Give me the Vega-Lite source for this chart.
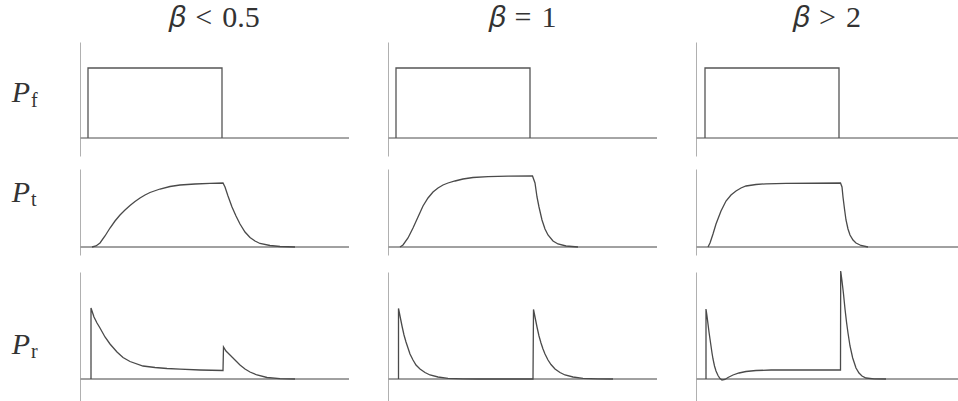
{
  "$schema": "https://vega.github.io/schema/vega-lite/v6.json",
  "padding": {"left": 0, "top": 3, "right": 0, "bottom": 0},
  "background": "white",
  "spacing": 13,
  "bounds": "full",
  "config": {
    "view": {"stroke": null},
    "title": {"font": "Liberation Serif", "fontSize": 30, "fontWeight": "normal", "color": "#333", "anchor": "middle", "offset": 9, "baseline": "alphabetic"},
    "axisY": {"domain": true, "domainColor": "#b0b0b0", "domainWidth": 1, "ticks": false, "labels": false, "grid": false, "title": null},
    "line": {"color": "#4a4a4a", "strokeWidth": 1.3},
    "rule": {"color": "#a0a0a0", "strokeWidth": 1}
  },
  "datasets": {
    "pf": [
      {"c": "a", "x": 8, "y": 0}, {"c": "a", "x": 8, "y": 70}, {"c": "a", "x": 142, "y": 70}, {"c": "a", "x": 142, "y": 0},
      {"c": "b", "x": 8, "y": 0}, {"c": "b", "x": 8, "y": 70}, {"c": "b", "x": 142, "y": 70}, {"c": "b", "x": 142, "y": 0},
      {"c": "c", "x": 9, "y": 0}, {"c": "c", "x": 9, "y": 70}, {"c": "c", "x": 143, "y": 70}, {"c": "c", "x": 143, "y": 0}
    ],
    "pt": [
      {"c": "a", "x": 12, "y": 0}, {"c": "a", "x": 16, "y": 1}, {"c": "a", "x": 20, "y": 4}, {"c": "a", "x": 25, "y": 11}, {"c": "a", "x": 30, "y": 19}, {"c": "a", "x": 35, "y": 26}, {"c": "a", "x": 40, "y": 32}, {"c": "a", "x": 45, "y": 37}, {"c": "a", "x": 50, "y": 41.5}, {"c": "a", "x": 55, "y": 45.5}, {"c": "a", "x": 60, "y": 49}, {"c": "a", "x": 65, "y": 52}, {"c": "a", "x": 70, "y": 54.5}, {"c": "a", "x": 80, "y": 58}, {"c": "a", "x": 90, "y": 60.5}, {"c": "a", "x": 100, "y": 62}, {"c": "a", "x": 115, "y": 63}, {"c": "a", "x": 130, "y": 63.6}, {"c": "a", "x": 143, "y": 64}, {"c": "a", "x": 145, "y": 60}, {"c": "a", "x": 148, "y": 51}, {"c": "a", "x": 152, "y": 40}, {"c": "a", "x": 156, "y": 31}, {"c": "a", "x": 160, "y": 23}, {"c": "a", "x": 165, "y": 15}, {"c": "a", "x": 170, "y": 9.5}, {"c": "a", "x": 175, "y": 6}, {"c": "a", "x": 180, "y": 3.5}, {"c": "a", "x": 190, "y": 1.5}, {"c": "a", "x": 200, "y": 0.5}, {"c": "a", "x": 215, "y": 0},
      {"c": "b", "x": 12, "y": 0}, {"c": "b", "x": 15, "y": 2}, {"c": "b", "x": 20, "y": 9}, {"c": "b", "x": 25, "y": 19}, {"c": "b", "x": 30, "y": 30}, {"c": "b", "x": 35, "y": 41}, {"c": "b", "x": 40, "y": 49}, {"c": "b", "x": 45, "y": 55}, {"c": "b", "x": 50, "y": 59}, {"c": "b", "x": 55, "y": 62}, {"c": "b", "x": 60, "y": 64}, {"c": "b", "x": 67, "y": 66}, {"c": "b", "x": 75, "y": 68}, {"c": "b", "x": 85, "y": 69.5}, {"c": "b", "x": 100, "y": 70.3}, {"c": "b", "x": 120, "y": 70.8}, {"c": "b", "x": 144.5, "y": 71}, {"c": "b", "x": 147, "y": 64}, {"c": "b", "x": 149, "y": 50}, {"c": "b", "x": 151, "y": 40}, {"c": "b", "x": 154, "y": 27}, {"c": "b", "x": 157, "y": 18}, {"c": "b", "x": 160, "y": 12}, {"c": "b", "x": 165, "y": 6}, {"c": "b", "x": 170, "y": 3}, {"c": "b", "x": 178, "y": 1}, {"c": "b", "x": 190, "y": 0},
      {"c": "c", "x": 12, "y": 0}, {"c": "c", "x": 14, "y": 4}, {"c": "c", "x": 17, "y": 13}, {"c": "c", "x": 20, "y": 23}, {"c": "c", "x": 25, "y": 36}, {"c": "c", "x": 30, "y": 46}, {"c": "c", "x": 35, "y": 52}, {"c": "c", "x": 40, "y": 56}, {"c": "c", "x": 45, "y": 59}, {"c": "c", "x": 50, "y": 61}, {"c": "c", "x": 60, "y": 62.5}, {"c": "c", "x": 70, "y": 63.2}, {"c": "c", "x": 90, "y": 63.7}, {"c": "c", "x": 144.5, "y": 64}, {"c": "c", "x": 146, "y": 60}, {"c": "c", "x": 147, "y": 50}, {"c": "c", "x": 148.5, "y": 38}, {"c": "c", "x": 150, "y": 27}, {"c": "c", "x": 152, "y": 18}, {"c": "c", "x": 154, "y": 12}, {"c": "c", "x": 157, "y": 7}, {"c": "c", "x": 160, "y": 4}, {"c": "c", "x": 165, "y": 1.5}, {"c": "c", "x": 172, "y": 0}
    ],
    "pr": [
      {"c": "a", "x": 11, "y": 0}, {"c": "a", "x": 11, "y": 71}, {"c": "a", "x": 14, "y": 62}, {"c": "a", "x": 17, "y": 56}, {"c": "a", "x": 20, "y": 51}, {"c": "a", "x": 25, "y": 42}, {"c": "a", "x": 30, "y": 35}, {"c": "a", "x": 37, "y": 27}, {"c": "a", "x": 43, "y": 21.5}, {"c": "a", "x": 50, "y": 17.5}, {"c": "a", "x": 63, "y": 13}, {"c": "a", "x": 75, "y": 11.5}, {"c": "a", "x": 87, "y": 10.5}, {"c": "a", "x": 100, "y": 9.8}, {"c": "a", "x": 120, "y": 9}, {"c": "a", "x": 143, "y": 8.5}, {"c": "a", "x": 143.5, "y": 32}, {"c": "a", "x": 146, "y": 28}, {"c": "a", "x": 150, "y": 24}, {"c": "a", "x": 155, "y": 19}, {"c": "a", "x": 160, "y": 14}, {"c": "a", "x": 165, "y": 10}, {"c": "a", "x": 170, "y": 7}, {"c": "a", "x": 177, "y": 4}, {"c": "a", "x": 187, "y": 1.5}, {"c": "a", "x": 200, "y": 0.3}, {"c": "a", "x": 215, "y": 0},
      {"c": "b", "x": 10.5, "y": 0}, {"c": "b", "x": 10.5, "y": 70.5}, {"c": "b", "x": 12, "y": 63}, {"c": "b", "x": 14, "y": 53}, {"c": "b", "x": 16, "y": 44}, {"c": "b", "x": 18, "y": 37}, {"c": "b", "x": 20, "y": 31}, {"c": "b", "x": 22, "y": 25}, {"c": "b", "x": 25, "y": 19}, {"c": "b", "x": 28, "y": 14}, {"c": "b", "x": 32, "y": 10}, {"c": "b", "x": 37, "y": 6.5}, {"c": "b", "x": 42, "y": 4}, {"c": "b", "x": 50, "y": 2}, {"c": "b", "x": 60, "y": 0.7}, {"c": "b", "x": 75, "y": 0.1}, {"c": "b", "x": 90, "y": 0}, {"c": "b", "x": 145, "y": 0}, {"c": "b", "x": 145.5, "y": 69.5}, {"c": "b", "x": 147, "y": 62}, {"c": "b", "x": 149, "y": 52}, {"c": "b", "x": 151, "y": 43}, {"c": "b", "x": 153, "y": 36}, {"c": "b", "x": 155, "y": 30}, {"c": "b", "x": 157, "y": 25}, {"c": "b", "x": 160, "y": 19}, {"c": "b", "x": 163, "y": 14.5}, {"c": "b", "x": 167, "y": 10}, {"c": "b", "x": 172, "y": 6.5}, {"c": "b", "x": 177, "y": 4}, {"c": "b", "x": 185, "y": 2}, {"c": "b", "x": 195, "y": 0.7}, {"c": "b", "x": 210, "y": 0.1}, {"c": "b", "x": 225, "y": 0},
      {"c": "c", "x": 10, "y": 0}, {"c": "c", "x": 10, "y": 70}, {"c": "c", "x": 11, "y": 63}, {"c": "c", "x": 12, "y": 55}, {"c": "c", "x": 13, "y": 47}, {"c": "c", "x": 14, "y": 40}, {"c": "c", "x": 15, "y": 33}, {"c": "c", "x": 16, "y": 26}, {"c": "c", "x": 17, "y": 20}, {"c": "c", "x": 18.5, "y": 13}, {"c": "c", "x": 20, "y": 8}, {"c": "c", "x": 22, "y": 3.5}, {"c": "c", "x": 24, "y": 0.5}, {"c": "c", "x": 26, "y": -1}, {"c": "c", "x": 29, "y": -0.5}, {"c": "c", "x": 32, "y": 1.5}, {"c": "c", "x": 37, "y": 4}, {"c": "c", "x": 43, "y": 6}, {"c": "c", "x": 50, "y": 7.5}, {"c": "c", "x": 60, "y": 8.5}, {"c": "c", "x": 75, "y": 9}, {"c": "c", "x": 100, "y": 9}, {"c": "c", "x": 144.5, "y": 9}, {"c": "c", "x": 144.7, "y": 108}, {"c": "c", "x": 146, "y": 98}, {"c": "c", "x": 147.5, "y": 85}, {"c": "c", "x": 149, "y": 70}, {"c": "c", "x": 150.5, "y": 57}, {"c": "c", "x": 152, "y": 46}, {"c": "c", "x": 154, "y": 33}, {"c": "c", "x": 156.7, "y": 21}, {"c": "c", "x": 160, "y": 11}, {"c": "c", "x": 163, "y": 6}, {"c": "c", "x": 166, "y": 3}, {"c": "c", "x": 170, "y": 1}, {"c": "c", "x": 178, "y": 0.2}, {"c": "c", "x": 190, "y": 0}
    ],
    "labels": [
      {"r": "f", "k": "main", "t": "P", "x": 21, "y": 36},
      {"r": "f", "k": "sub", "t": "f", "x": 31, "y": 31},
      {"r": "t", "k": "main", "t": "P", "x": 21, "y": 45},
      {"r": "t", "k": "sub", "t": "t", "x": 31, "y": 41},
      {"r": "r", "k": "main", "t": "P", "x": 21, "y": 25},
      {"r": "r", "k": "sub", "t": "r", "x": 31, "y": 21}
    ]
  },
  "resolve": {"scale": {"x": "independent", "y": "independent"}},
  "vconcat": [
    {
      "bounds": "flush",
      "spacing": 39,
      "resolve": {"scale": {"x": "independent", "y": "independent"}},
      "hconcat": [
        {
          "width": 41, "height": 114,
          "data": {"name": "labels"},
          "transform": [{"filter": "datum.r == 'f'"}],
          "layer": [
            {"transform": [{"filter": "datum.k == 'main'"}], "mark": {"type": "text", "font": "Liberation Serif", "fontSize": 30, "fontStyle": "italic", "align": "center", "baseline": "alphabetic", "color": "#333"},
             "encoding": {"x": {"field": "x", "type": "quantitative", "scale": {"domain": [0, 41]}, "axis": null}, "y": {"field": "y", "type": "quantitative", "scale": {"domain": [-18, 96]}, "axis": null}, "text": {"field": "t"}}},
            {"transform": [{"filter": "datum.k == 'sub'"}], "mark": {"type": "text", "font": "Liberation Serif", "fontSize": 20, "align": "left", "baseline": "alphabetic", "color": "#333"},
             "encoding": {"x": {"field": "x", "type": "quantitative", "scale": {"domain": [0, 41]}, "axis": null}, "y": {"field": "y", "type": "quantitative", "scale": {"domain": [-18, 96]}, "axis": null}, "text": {"field": "t"}}}
          ]
        },
        {
          "title": {"text": "𝛽\u2004<\u20040.5", "font": "Liberation Serif", "fontSize": 30, "fontWeight": "normal", "color": "#333", "offset": 9},
          "width": 269, "height": 114,
          "data": {"name": "pf"},
          "transform": [{"filter": "datum.c == 'a'"}],
          "encoding": {"x": {"field": "x", "type": "quantitative", "scale": {"domain": [0, 269], "nice": false, "zero": false}, "axis": null}, "y": {"field": "y", "type": "quantitative", "scale": {"domain": [-18, 96], "nice": false, "zero": false}}},
          "layer": [
            {"mark": "rule", "encoding": {"x": null, "y": {"datum": 0, "type": "quantitative"}}},
            {"mark": {"type": "line", "color": "#555"}, "encoding": {"order": {"value": null}}}
          ]
        },
        {
          "title": {"text": "𝛽\u2004=\u20041", "font": "Liberation Serif", "fontSize": 30, "fontWeight": "normal", "color": "#333", "offset": 9},
          "width": 269, "height": 114,
          "data": {"name": "pf"},
          "transform": [{"filter": "datum.c == 'b'"}],
          "encoding": {"x": {"field": "x", "type": "quantitative", "scale": {"domain": [0, 269], "nice": false, "zero": false}, "axis": null}, "y": {"field": "y", "type": "quantitative", "scale": {"domain": [-18, 96], "nice": false, "zero": false}}},
          "layer": [
            {"mark": "rule", "encoding": {"x": null, "y": {"datum": 0, "type": "quantitative"}}},
            {"mark": {"type": "line", "color": "#555"}, "encoding": {"order": {"value": null}}}
          ]
        },
        {
          "title": {"text": "𝛽\u2004>\u20042", "font": "Liberation Serif", "fontSize": 30, "fontWeight": "normal", "color": "#333", "offset": 9},
          "width": 262, "height": 114,
          "data": {"name": "pf"},
          "transform": [{"filter": "datum.c == 'c'"}],
          "encoding": {"x": {"field": "x", "type": "quantitative", "scale": {"domain": [0, 262], "nice": false, "zero": false}, "axis": null}, "y": {"field": "y", "type": "quantitative", "scale": {"domain": [-18, 96], "nice": false, "zero": false}}},
          "layer": [
            {"mark": "rule", "encoding": {"x": null, "y": {"datum": 0, "type": "quantitative"}}},
            {"mark": {"type": "line", "color": "#555"}, "encoding": {"order": {"value": null}}}
          ]
        }
      ]
    },
    {
      "bounds": "flush",
      "spacing": 39,
      "resolve": {"scale": {"x": "independent", "y": "independent"}},
      "hconcat": [
        {
          "width": 41, "height": 86,
          "data": {"name": "labels"},
          "transform": [{"filter": "datum.r == 't'"}],
          "layer": [
            {"transform": [{"filter": "datum.k == 'main'"}], "mark": {"type": "text", "font": "Liberation Serif", "fontSize": 30, "fontStyle": "italic", "align": "center", "baseline": "alphabetic", "color": "#333"},
             "encoding": {"x": {"field": "x", "type": "quantitative", "scale": {"domain": [0, 41]}, "axis": null}, "y": {"field": "y", "type": "quantitative", "scale": {"domain": [-8, 78]}, "axis": null}, "text": {"field": "t"}}},
            {"transform": [{"filter": "datum.k == 'sub'"}], "mark": {"type": "text", "font": "Liberation Serif", "fontSize": 20, "align": "left", "baseline": "alphabetic", "color": "#333"},
             "encoding": {"x": {"field": "x", "type": "quantitative", "scale": {"domain": [0, 41]}, "axis": null}, "y": {"field": "y", "type": "quantitative", "scale": {"domain": [-8, 78]}, "axis": null}, "text": {"field": "t"}}}
          ]
        },
        {
          "width": 269, "height": 86,
          "data": {"name": "pt"},
          "transform": [{"filter": "datum.c == 'a'"}],
          "encoding": {"x": {"field": "x", "type": "quantitative", "scale": {"domain": [0, 269], "nice": false, "zero": false}, "axis": null}, "y": {"field": "y", "type": "quantitative", "scale": {"domain": [-8, 78], "nice": false, "zero": false}}},
          "layer": [
            {"mark": "rule", "encoding": {"x": null, "y": {"datum": 0, "type": "quantitative"}}},
            {"mark": "line", "encoding": {"order": {"value": null}}}
          ]
        },
        {
          "width": 269, "height": 86,
          "data": {"name": "pt"},
          "transform": [{"filter": "datum.c == 'b'"}],
          "encoding": {"x": {"field": "x", "type": "quantitative", "scale": {"domain": [0, 269], "nice": false, "zero": false}, "axis": null}, "y": {"field": "y", "type": "quantitative", "scale": {"domain": [-8, 78], "nice": false, "zero": false}}},
          "layer": [
            {"mark": "rule", "encoding": {"x": null, "y": {"datum": 0, "type": "quantitative"}}},
            {"mark": "line", "encoding": {"order": {"value": null}}}
          ]
        },
        {
          "width": 262, "height": 86,
          "data": {"name": "pt"},
          "transform": [{"filter": "datum.c == 'c'"}],
          "encoding": {"x": {"field": "x", "type": "quantitative", "scale": {"domain": [0, 262], "nice": false, "zero": false}, "axis": null}, "y": {"field": "y", "type": "quantitative", "scale": {"domain": [-8, 78], "nice": false, "zero": false}}},
          "layer": [
            {"mark": "rule", "encoding": {"x": null, "y": {"datum": 0, "type": "quantitative"}}},
            {"mark": "line", "encoding": {"order": {"value": null}}}
          ]
        }
      ]
    },
    {
      "bounds": "flush",
      "spacing": 39,
      "resolve": {"scale": {"x": "independent", "y": "independent"}},
      "hconcat": [
        {
          "width": 41, "height": 131,
          "data": {"name": "labels"},
          "transform": [{"filter": "datum.r == 'r'"}],
          "layer": [
            {"transform": [{"filter": "datum.k == 'main'"}], "mark": {"type": "text", "font": "Liberation Serif", "fontSize": 30, "fontStyle": "italic", "align": "center", "baseline": "alphabetic", "color": "#333"},
             "encoding": {"x": {"field": "x", "type": "quantitative", "scale": {"domain": [0, 41]}, "axis": null}, "y": {"field": "y", "type": "quantitative", "scale": {"domain": [-24, 107]}, "axis": null}, "text": {"field": "t"}}},
            {"transform": [{"filter": "datum.k == 'sub'"}], "mark": {"type": "text", "font": "Liberation Serif", "fontSize": 20, "align": "left", "baseline": "alphabetic", "color": "#333"},
             "encoding": {"x": {"field": "x", "type": "quantitative", "scale": {"domain": [0, 41]}, "axis": null}, "y": {"field": "y", "type": "quantitative", "scale": {"domain": [-24, 107]}, "axis": null}, "text": {"field": "t"}}}
          ]
        },
        {
          "width": 269, "height": 131,
          "data": {"name": "pr"},
          "transform": [{"filter": "datum.c == 'a'"}],
          "encoding": {"x": {"field": "x", "type": "quantitative", "scale": {"domain": [0, 269], "nice": false, "zero": false}, "axis": null}, "y": {"field": "y", "type": "quantitative", "scale": {"domain": [-24, 107], "nice": false, "zero": false}}},
          "layer": [
            {"mark": "rule", "encoding": {"x": null, "y": {"datum": 0, "type": "quantitative"}}},
            {"mark": "line", "encoding": {"order": {"value": null}}}
          ]
        },
        {
          "width": 269, "height": 131,
          "data": {"name": "pr"},
          "transform": [{"filter": "datum.c == 'b'"}],
          "encoding": {"x": {"field": "x", "type": "quantitative", "scale": {"domain": [0, 269], "nice": false, "zero": false}, "axis": null}, "y": {"field": "y", "type": "quantitative", "scale": {"domain": [-24, 107], "nice": false, "zero": false}}},
          "layer": [
            {"mark": "rule", "encoding": {"x": null, "y": {"datum": 0, "type": "quantitative"}}},
            {"mark": "line", "encoding": {"order": {"value": null}}}
          ]
        },
        {
          "width": 262, "height": 131,
          "data": {"name": "pr"},
          "transform": [{"filter": "datum.c == 'c'"}],
          "encoding": {"x": {"field": "x", "type": "quantitative", "scale": {"domain": [0, 262], "nice": false, "zero": false}, "axis": null}, "y": {"field": "y", "type": "quantitative", "scale": {"domain": [-24, 107], "nice": false, "zero": false}}},
          "layer": [
            {"mark": "rule", "encoding": {"x": null, "y": {"datum": 0, "type": "quantitative"}}},
            {"mark": "line", "encoding": {"order": {"value": null}}}
          ]
        }
      ]
    }
  ]
}
